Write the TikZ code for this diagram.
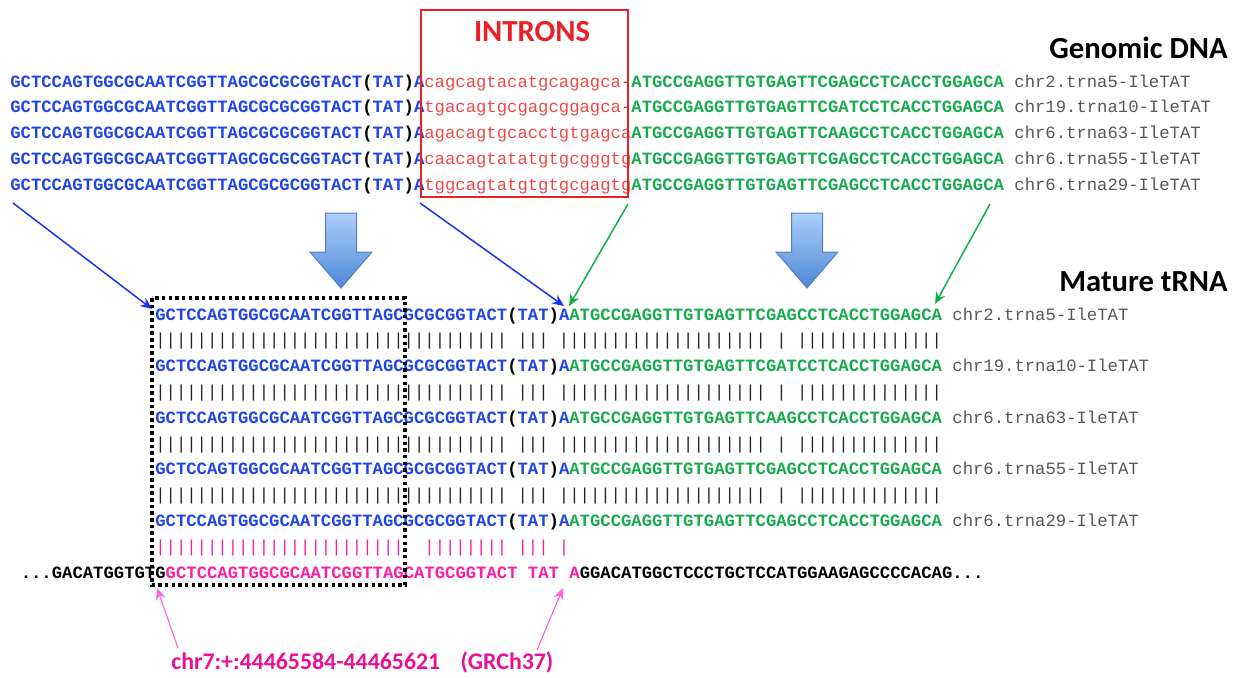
\documentclass[tikz,border=0pt]{standalone}
\usepackage{fontspec}
\usepackage{tikz}
\usetikzlibrary{arrows.meta,positioning}
\newfontfamily\seqfont{Liberation Mono}
\newfontfamily\headfont{Carlito}
\definecolor{seqblue}{RGB}{32,68,232}
\definecolor{seqgreen}{RGB}{24,170,78}
\definecolor{intronred}{RGB}{240,72,72}
\definecolor{boxred}{RGB}{236,32,36}
\definecolor{pinkseq}{RGB}{255,30,160}
\definecolor{pinklab}{RGB}{232,16,150}
\definecolor{pinkarrow}{RGB}{255,100,235}
\definecolor{idgray}{RGB}{88,88,88}
\definecolor{arrowblue}{RGB}{22,52,240}
\definecolor{arrowgreen}{RGB}{20,175,70}
\definecolor{bigtop}{RGB}{172,206,250}
\definecolor{bigbot}{RGB}{78,136,214}
\definecolor{bigline}{RGB}{84,128,196}
\tikzstyle{seq}=[inner sep=0pt,anchor=base west,font=\seqfont\fontsize{10.35}{12}\selectfont]
\tikzstyle{head}=[inner sep=0pt,anchor=base east,font=\headfont\bfseries\fontsize{18.4}{22}\selectfont]
\tikzstyle{post}=[->,>={Stealth[length=7pt,width=6pt]},line width=0.9pt]
\tikzstyle{bigarrow}=[top color=bigtop,bottom color=bigbot,draw=bigline,line width=0.6pt]
\ExplSyntaxOn
\cs_new:Npn \seqrep #1#2 { \prg_replicate:nn {#1} {#2} }
\ExplSyntaxOff
\newcommand{\seqbl}[1]{\textcolor{seqblue}{\bfseries #1}}
\newcommand{\seqgr}[1]{\textcolor{seqgreen}{\bfseries #1}}
\newcommand{\tblue}{GCTCCAGTGGCGCAATCGGTTAGCGCGCGGTACT}
\newcommand{\tat}{\seqbl{\tblue}\textbf{(}\seqbl{TAT}\textbf{)}\seqbl{A}}
\newcommand{\idash}{\textcolor{idgray}{-}}
\newcommand{\pipesM}{\seqrep{34}{|}\ \seqrep{3}{|}\ \seqrep{20}{|}\ |\ \seqrep{14}{|}}
\begin{document}
\begin{tikzpicture}[x=0.6pt,y=-0.6pt]
    \useasboundingbox (0,0) rectangle (1243,677);
    % genomic copies with their introns
    \foreach \i/\intr/\core/\lab in {1/cagcagtacatgcagagca\idash/GAG/chr2.trna5-IleTAT,
        2/tgacagtgcgagcggagca\idash/GAT/chr19.trna10-IleTAT,
        3/agacagtgcacctgtgagca/AAG/chr6.trna63-IleTAT,
        4/caacagtatatgtgcgggtg/GAG/chr6.trna55-IleTAT,
        5/tggcagtatgtgtgcgagtg/GAG/chr6.trna29-IleTAT}
      \node[seq] (g\i) at (10,{61.25+25.75*\i}) {\tat\textcolor{intronred}{\intr}\seqgr{ATGCCGAGGTTGTGAGTTC\core CCTCACCTGGAGCA}\ \textcolor{idgray}{\lab}};
    \draw[boxred,line width=1.3pt] (421,10) rectangle (628,197);
    \node[head,anchor=base,text=boxred] (introns) at (532,41.7) {INTRONS};
    \node[head] (gdna) at (1228,58) {Genomic DNA};
    \node[head] (mtrna) at (1228,291) {Mature tRNA};
    % mature tRNA
    \foreach \i/\core/\lab in {1/GAG/chr2.trna5-IleTAT,2/GAT/chr19.trna10-IleTAT,
        3/AAG/chr6.trna63-IleTAT,4/GAG/chr6.trna55-IleTAT,5/GAG/chr6.trna29-IleTAT}
      \node[seq] (m\i) at (155,{268.4+51.6*\i}) {\tat\seqgr{ATGCCGAGGTTGTGAGTTC\core CCTCACCTGGAGCA}\ \textcolor{idgray}{\lab}};
    \foreach \i in {1,...,4}
      \node[seq,text=black!85] (p\i) at (155,{294.2+51.6*\i}) {\pipesM};
    \node[seq,text=pinkseq] (pp) at (155,552.2) {\seqrep{24}{|}\ \ \seqrep{8}{|}\ \seqrep{3}{|}\ |};
    \node[seq] (ref) at ({155-13*10.35},578) {\textbf{...GACATGGTGTG}\textcolor{pinkseq}{\bfseries GCTCCAGTGGCGCAATCGGTTAGCATGCGGTACT TAT A}\textbf{GGACATGGCTCCCTGCTCCATGGAAGAGCCCCACAG...}};
    \node[inner sep=0pt,anchor=base west,text=pinklab,font=\headfont\bfseries\fontsize{14.3}{16}\selectfont] (locus) at (171,669) {chr7:+:44465584-44465621\hspace{0.85em}(GRCh37)};
    \draw[line width=2.1pt,dash pattern=on 2.1pt off 1.9pt] (152,298) rectangle (405,585);
    % big arrows
    \foreach \cx in {341,807}
      \shade[bigarrow] (\cx-15.5,213) -- (\cx+15.5,213) -- (\cx+15.5,252) -- (\cx+31,252) -- (\cx,288) -- (\cx-31,252) -- (\cx-15.5,252) -- cycle;
    \coordinate (s1) at (13,203);  \coordinate (e1) at (152,309);
    \coordinate (s2) at (420,203); \coordinate (e2) at (564,306);
    \coordinate (s3) at (628,204); \coordinate (e3) at (569,306);
    \coordinate (s4) at (990,204); \coordinate (e4) at (935,304);
    \coordinate (s5) at (178,648); \coordinate (e5) at (157,588);
    \coordinate (s6) at (537,650); \coordinate (e6) at (563,588);
    \path[post]
    (s1) edge[arrowblue] (e1)
    (s2) edge[arrowblue] (e2)
    (s3) edge[arrowgreen] (e3)
    (s4) edge[arrowgreen] (e4)
    (s5) edge[pinkarrow,line width=0.7pt] (e5)
    (s6) edge[pinkarrow,line width=0.7pt] (e6)
    ;
\end{tikzpicture}
\end{document}
